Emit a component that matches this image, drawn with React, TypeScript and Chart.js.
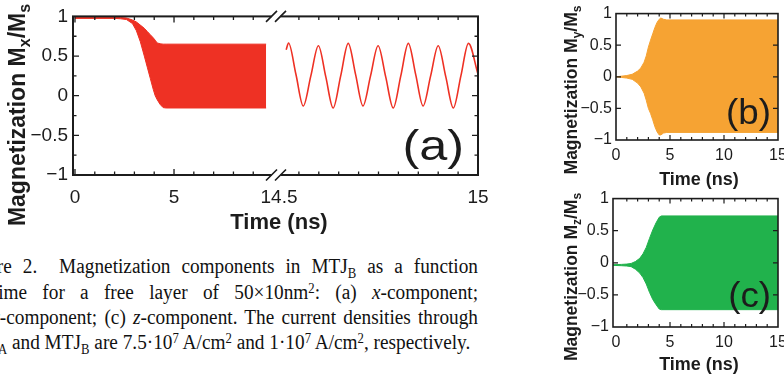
import React, { useEffect, useRef } from "react";
import { Chart, registerables } from "chart.js";
Chart.register(...registerables);

const INK = "#1c1c1c";
const RED = "#ee3124";
const ORANGE = "#f6a333";
const GREEN = "#21b24c";

// ---- (a) x-component, 0..9.65 ns: envelope of the fast precession ----
const A_TIME = [0, 1, 2, 2.3, 2.6, 2.9, 3.1, 3.3, 3.5, 3.65, 3.8, 3.95, 4.05, 4.15, 4.3, 4.45, 4.6, 9.65];
const A_UPPER = [0.985, 0.985, 0.985, 0.985, 0.98, 0.955, 0.93, 0.89, 0.85, 0.81, 0.77, 0.73, 0.7, 0.665, 0.655, 0.65, 0.65, 0.65];
const A_LOWER = [0.975, 0.975, 0.975, 0.97, 0.96, 0.91, 0.82, 0.68, 0.5, 0.36, 0.22, 0.08, 0.0, -0.05, -0.11, -0.15, -0.155, -0.155];
// ---- (a) x-component, 14.5..15 ns ----
const A2_TIME = [14.518, 14.524, 14.5425, 14.561, 14.58, 14.599, 14.6175, 14.636, 14.655, 14.674, 14.6925, 14.711, 14.73, 14.749, 14.768, 14.787, 14.806, 14.825, 14.8435, 14.862, 14.881, 14.9, 14.919, 14.938, 14.957, 14.976, 15.0];
const A2_VALUE = [0.58, 0.665, 0.27, -0.13, 0.25, 0.63, 0.24, -0.155, 0.25, 0.66, 0.265, -0.13, 0.25, 0.63, 0.24, -0.155, 0.25, 0.66, 0.265, -0.13, 0.25, 0.63, 0.24, -0.155, 0.25, 0.66, 0.27];

// ---- (b) y-component envelope ----
const B_TIME = [0, 0.5, 1.0, 1.5, 2.0, 2.3, 2.6, 2.8, 3.0, 3.2, 3.4, 3.6, 3.8, 4.0, 4.15, 4.4, 4.7, 15];
const B_UPPER = [0.0, 0.01, 0.02, 0.04, 0.09, 0.14, 0.23, 0.33, 0.47, 0.58, 0.68, 0.78, 0.86, 0.91, 0.93, 0.91, 0.9, 0.9];
const B_LOWER = [0.0, -0.01, -0.02, -0.04, -0.1, -0.16, -0.26, -0.37, -0.5, -0.58, -0.68, -0.79, -0.87, -0.92, -0.92, -0.89, -0.88, -0.88];

// ---- (c) z-component envelope ----
const C_TIME = [-0.28, 0.5, 1.0, 1.4, 1.8, 2.2, 2.5, 2.8, 3.1, 3.4, 3.7, 4.0, 4.2, 15];
const C_UPPER = [-0.03, -0.025, -0.02, -0.01, 0.02, 0.07, 0.14, 0.24, 0.38, 0.51, 0.62, 0.71, 0.73, 0.73];
const C_LOWER = [-0.04, -0.045, -0.05, -0.06, -0.1, -0.16, -0.23, -0.33, -0.46, -0.57, -0.65, -0.72, -0.73, -0.73];

// ---- ticks ----
const Y_TICKS = [-1, -0.5, 0, 0.5, 1];
const Y_MAJOR_MARKS = [-0.5, 0, 0.5];
const Y_MINOR_MARKS = [-0.75, -0.25, 0.25, 0.75];
const A_X_TICKS = [0, 5];
const A_X_MINOR = [1, 2, 3, 4, 6, 7, 8, 9];
const A_X2_TICKS = [14.5, 15];
const A_X2_MINOR = [14.55, 14.6, 14.65, 14.7, 14.75, 14.8, 14.85, 14.9, 14.95];
const BC_X_TICKS = [0, 5, 10, 15];
const BC_X_MAJOR = [5, 10];
const BC_X_MINOR = [1, 2, 3, 4, 6, 7, 8, 9, 11, 12, 13, 14];

const X_TITLE = "Time (ns)";
const A_YTITLE = [{ t: "Magnetization M" }, { t: "x", sub: true }, { t: "/M" }, { t: "s", sub: true }];
const B_YTITLE = [{ t: "Magnetization M" }, { t: "y", sub: true }, { t: "/M" }, { t: "s", sub: true }];
const C_YTITLE = [{ t: "Magnetization M" }, { t: "z", sub: true }, { t: "/M" }, { t: "s", sub: true }];

const SANS = "'Liberation Sans', Arial, sans-serif";

const fmt = (v: number) => (v < 0 ? "\u2212" + Math.abs(v) : String(v));
const pts = (xs: number[], ys: number[]) => xs.map((x, i) => ({ x, y: ys[i] }));

function drawRotatedTitle(ctx: any, parts: any[], font: string, subFont: string, subShift: number, bx: number, cy: number) {
  ctx.save();
  ctx.fillStyle = INK;
  ctx.textBaseline = "alphabetic";
  ctx.textAlign = "left";
  let total = 0;
  const widths = parts.map((p) => {
    ctx.font = p.sub ? subFont : font;
    const w = ctx.measureText(p.t).width;
    total += w;
    return w;
  });
  ctx.translate(bx, cy);
  ctx.rotate(-Math.PI / 2);
  let x = -total / 2;
  parts.forEach((p, i) => {
    ctx.font = p.sub ? subFont : font;
    ctx.fillText(p.t, x, p.sub ? subShift : 0);
    x += widths[i];
  });
  ctx.restore();
}

function framePlugin(cfg: any) {
  return {
    id: "frame",
    afterDraw(chart: any) {
      const { ctx, chartArea: ca } = chart;
      ctx.save();
      ctx.strokeStyle = INK;
      ctx.lineWidth = cfg.lw;
      ctx.strokeRect(ca.left, ca.top, ca.right - ca.left, ca.bottom - ca.top);
      const gap = cfg.breakAt ? cfg.breakAt(chart) : null;
      ctx.lineWidth = cfg.tickLw;
      ctx.beginPath();
      for (const g of cfg.xTicks) {
        const sc = chart.scales[g.id];
        const put = (v: number, len: number) => {
          const p = sc.getPixelForValue(v);
          if (gap !== null && Math.abs(p - gap) < 8) return;
          ctx.moveTo(p, ca.bottom);
          ctx.lineTo(p, ca.bottom - len);
          ctx.moveTo(p, ca.top);
          ctx.lineTo(p, ca.top + len);
        };
        g.major.forEach((v: number) => put(v, cfg.majorLen));
        g.minor.forEach((v: number) => put(v, cfg.minorLen));
      }
      const ys = chart.scales.y;
      const putY = (v: number, len: number) => {
        const p = ys.getPixelForValue(v);
        ctx.moveTo(ca.left, p);
        ctx.lineTo(ca.left + len, p);
        ctx.moveTo(ca.right, p);
        ctx.lineTo(ca.right - len, p);
      };
      cfg.yMajor.forEach((v: number) => putY(v, cfg.majorLen));
      cfg.yMinor.forEach((v: number) => putY(v, cfg.minorLen));
      ctx.stroke();

      if (gap !== null) {
        for (const yy of [ca.top, ca.bottom]) {
          ctx.fillStyle = "#fff";
          ctx.fillRect(gap - 4.5, yy - 2.5, 9, 5);
          ctx.beginPath();
          for (const c of [gap - 4.5, gap + 4.5]) {
            ctx.moveTo(c - 5.5, yy + 5.5);
            ctx.lineTo(c + 5.5, yy - 5.5);
          }
          ctx.lineWidth = 1.6;
          ctx.stroke();
        }
      }

      const yt = cfg.yTitle;
      drawRotatedTitle(ctx, yt.parts, yt.font, yt.subFont, yt.subShift, yt.x, yt.y);

      const xt = cfg.xTitle;
      ctx.fillStyle = INK;
      ctx.font = xt.font;
      ctx.textAlign = "center";
      ctx.textBaseline = "middle";
      ctx.fillText(xt.text, xt.x, xt.y);

      const lb = cfg.label;
      ctx.save();
      ctx.font = lb.font;
      ctx.textAlign = "right";
      ctx.textBaseline = "alphabetic";
      ctx.translate(lb.x, lb.y);
      ctx.scale(lb.sx, 1);
      ctx.fillText(lb.text, 0, 0);
      ctx.restore();

      ctx.restore();
    },
  };
}

function yScale(width: number, size: number, pad: number) {
  return {
    type: "linear",
    min: -1,
    max: 1,
    grid: { display: false, drawTicks: false },
    border: { display: false },
    ticks: { font: { family: SANS, size }, color: INK, padding: pad, callback: (v: number) => fmt(v) },
    afterBuildTicks: (s: any) => {
      s.ticks = Y_TICKS.map((value) => ({ value }));
    },
    afterFit: (s: any) => {
      s.width = width;
    },
  };
}

function xScale(min: number, max: number, ticks: number[], height: number, size: number, pad: number, extra: any = {}) {
  return {
    type: "linear",
    min,
    max,
    grid: { display: false, drawTicks: false },
    border: { display: false },
    ticks: { font: { family: SANS, size }, color: INK, padding: pad, maxRotation: 0, autoSkip: false, callback: (v: number) => fmt(v) },
    afterBuildTicks: (s: any) => {
      s.ticks = ticks.map((value) => ({ value }));
    },
    afterFit: (s: any) => {
      s.height = height;
    },
    ...extra,
  };
}

const envelope = (xs: number[], up: number[], lo: number[], color: string, xAxisID = "x") => [
  { data: pts(xs, up), xAxisID, borderColor: color, backgroundColor: color, borderWidth: 1, pointRadius: 0, fill: "+1", tension: 0 },
  { data: pts(xs, lo), xAxisID, borderColor: color, backgroundColor: color, borderWidth: 1, pointRadius: 0, fill: false, tension: 0 },
];

function cfgA(): any {
  return {
    type: "line",
    data: {
      datasets: [
        ...envelope(A_TIME, A_UPPER, A_LOWER, RED, "x"),
        { data: pts(A2_TIME, A2_VALUE), xAxisID: "x2", borderColor: RED, borderWidth: 1.6, pointRadius: 0, fill: false, cubicInterpolationMode: "monotone" },
      ],
    },
    options: {
      animation: false,
      responsive: false,
      devicePixelRatio: 1,
      layout: { padding: { left: 0, top: 13, right: 52, bottom: 0 } },
      plugins: { legend: { display: false }, tooltip: { enabled: false } },
      scales: {
        x: xScale(-0.1, 10.3, A_X_TICKS, 65, 19, 11, { stack: "time", stackWeight: 206 }),
        x2: xScale(14.5, 15, A_X2_TICKS, 65, 19, 11, { stack: "time", stackWeight: 199 }),
        y: yScale(73, 19, 5),
      },
    },
    plugins: [
      framePlugin({
        lw: 2,
        tickLw: 1.3,
        majorLen: 6,
        minorLen: 3.5,
        xTicks: [
          { id: "x", major: A_X_TICKS, minor: A_X_MINOR },
          { id: "x2", major: [], minor: A_X2_MINOR },
        ],
        yMajor: Y_MAJOR_MARKS,
        yMinor: Y_MINOR_MARKS,
        breakAt: (c: any) => c.scales.x2.left - 3,
        yTitle: { parts: A_YTITLE, font: `bold 23px ${SANS}`, subFont: `bold 16px ${SANS}`, subShift: 5, x: 25, y: 115 },
        xTitle: { text: X_TITLE, font: `bold 22px ${SANS}`, x: 279, y: 223 },
        label: { text: "(a)", font: `42px ${SANS}`, x: 464, y: 160, sx: 1.2 },
      }),
    ],
  };
}

function cfgBC(xs: number[], up: number[], lo: number[], color: string, xmin: number, yW: number, xH: number, padTop: number, title: any[], label: string, ytY: number, lbY: number): any {
  return {
    type: "line",
    data: { datasets: envelope(xs, up, lo, color) },
    options: {
      animation: false,
      responsive: false,
      devicePixelRatio: 1,
      layout: { padding: { left: 0, top: padTop, right: 22, bottom: 0 } },
      plugins: { legend: { display: false }, tooltip: { enabled: false } },
      scales: {
        x: xScale(xmin, 15, BC_X_TICKS, xH, 16, 6),
        y: yScale(yW, 16, 4),
      },
    },
    plugins: [
      framePlugin({
        lw: 1.6,
        tickLw: 1.2,
        majorLen: 5,
        minorLen: 3,
        xTicks: [{ id: "x", major: BC_X_MAJOR, minor: BC_X_MINOR }],
        yMajor: Y_MAJOR_MARKS,
        yMinor: [],
        breakAt: null,
        yTitle: { parts: title, font: `bold 17.5px ${SANS}`, subFont: `bold 12px ${SANS}`, subShift: 4, x: 47, y: ytY },
        xTitle: { text: X_TITLE, font: `bold 18px ${SANS}`, x: 169, y: 180 },
        label: { text: label, font: `35px ${SANS}`, x: 241, y: lbY, sx: 1.05 },
      }),
    ],
  };
}

const Sub = ({ children }: any) => (
  <span style={{ fontSize: "0.66em", position: "relative", top: "0.28em", lineHeight: 0 }}>{children}</span>
);
const Sup = ({ children }: any) => (
  <span style={{ fontSize: "0.66em", position: "relative", top: "-0.42em", lineHeight: 0 }}>{children}</span>
);

const CAP_FONT = 19.3;
const CAP_SY = 1.12;
const CAP_LEFT = -38.5;
const CAP_WIDTH = 516.5;
const CAP_BASELINES = [274.3, 299.6, 324.9, 350.2];

function CapLine({ i, justify, children }: any) {
  const lh = 22.5;
  const baseOff = ((lh - 1.107 * CAP_FONT) / 2 + 0.891 * CAP_FONT) * CAP_SY;
  return (
    <div
      style={{
        position: "absolute",
        left: CAP_LEFT,
        top: CAP_BASELINES[i] - baseOff,
        width: CAP_WIDTH,
        fontFamily: "'Liberation Serif', 'Times New Roman', serif",
        fontSize: CAP_FONT,
        lineHeight: lh + "px",
        color: "#111",
        whiteSpace: "nowrap",
        textAlign: justify ? "justify" : "left",
        textAlignLast: justify ? "justify" : "left",
        transform: `scaleY(${CAP_SY})`,
        transformOrigin: "top left",
      } as any}
    >
      {children}
    </div>
  );
}

export default function App() {
  const refA = useRef<HTMLCanvasElement>(null);
  const refB = useRef<HTMLCanvasElement>(null);
  const refC = useRef<HTMLCanvasElement>(null);

  useEffect(() => {
    const charts = [
      new Chart(refA.current as any, cfgA()),
      new Chart(refB.current as any, cfgBC(B_TIME, B_UPPER, B_LOWER, ORANGE, 0, 86, 50, 10, B_YTITLE, "(b)", 90, 124)),
      new Chart(refC.current as any, cfgBC(C_TIME, C_UPPER, C_LOWER, GREEN, -0.28, 83, 55, 12, C_YTITLE, "(c)", 92, 122)),
    ];
    return () => charts.forEach((c) => c.destroy());
  }, []);

  return (
    <div style={{ position: "fixed", left: 0, top: 0, width: 784, height: 382, overflow: "hidden", background: "#fff" }}>
      <canvas ref={refA} width={530} height={240} style={{ position: "absolute", left: 0, top: 0 }} />
      <canvas ref={refB} width={270} height={190} style={{ position: "absolute", left: 530, top: 0 }} />
      <canvas ref={refC} width={270} height={197} style={{ position: "absolute", left: 530, top: 185 }} />
      <CapLine i={0} justify>
        Figure 2.&nbsp; Magnetization components in MTJ<Sub>B</Sub> as a function
      </CapLine>
      <CapLine i={1} justify>
        of time for a free layer of 50×10nm<Sup>2</Sup>: (a) <i>x</i>-component;
      </CapLine>
      <CapLine i={2} justify>
        (b) <i>y</i>-component; (c) <i>z</i>-component. The current densities through
      </CapLine>
      <CapLine i={3}>
        MTJ<Sub>A</Sub> and MTJ<Sub>B</Sub> are 7.5·10<Sup>7</Sup> A/cm<Sup>2</Sup> and 1·10<Sup>7</Sup> A/cm<Sup>2</Sup>, respectively.
      </CapLine>
    </div>
  );
}
